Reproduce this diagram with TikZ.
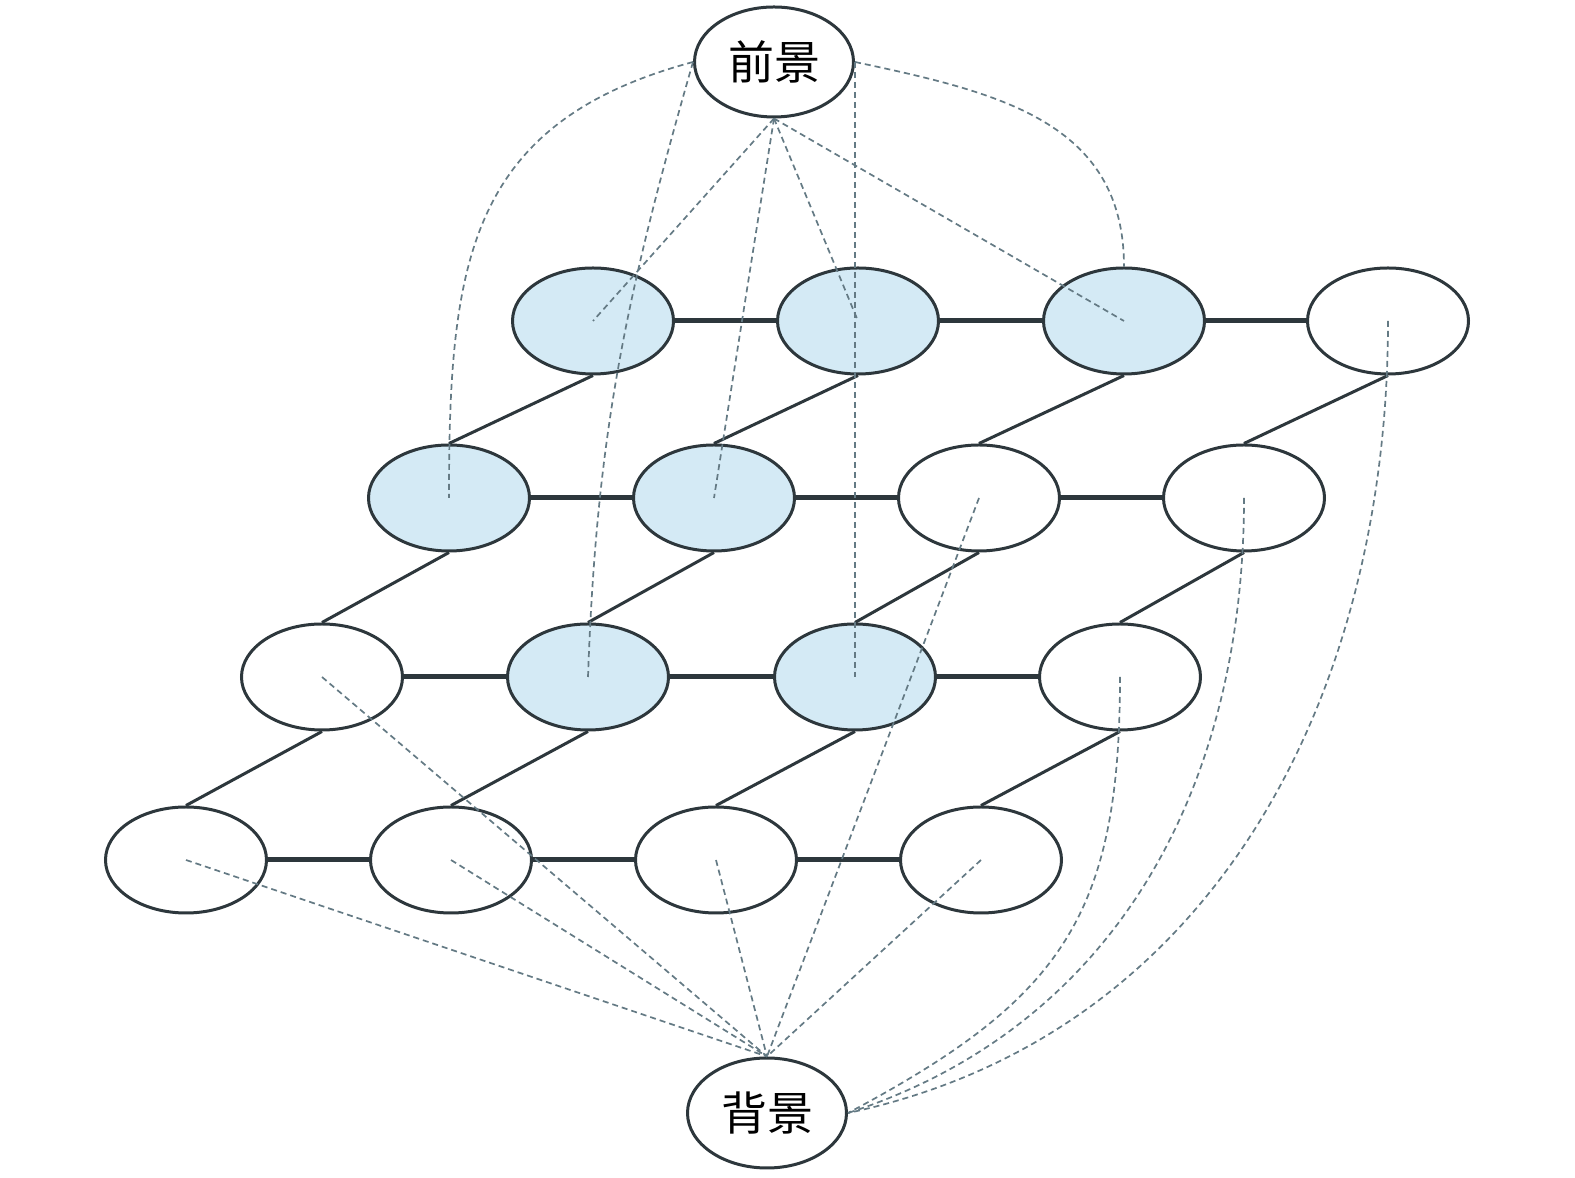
\documentclass[tikz,border=0pt]{standalone}
\usepackage{fontspec}
\newfontfamily\cjk{Noto Sans CJK SC}
\usetikzlibrary{shapes.geometric}

\definecolor{linegray}{RGB}{45,55,60}
\definecolor{cellblue}{RGB}{212,234,245}
\definecolor{dashgray}{RGB}{100,122,132}

\begin{document}
\begin{tikzpicture}[x=1pt,y=1pt,
	cell/.style={ellipse, draw=linegray, line width=3pt, minimum width=161pt, minimum height=106pt, inner sep=0pt},
	fgcell/.style={cell, fill=cellblue},
	term/.style={cell, minimum width=159pt, minimum height=110pt, font=\cjk\fontsize{46}{46}\selectfont},
	nlink/.style={draw=linegray, line width=5pt},
	dlink/.style={draw=linegray, line width=3pt},
	tlink/.style={draw=dashgray, line width=1.7pt, dash pattern=on 6pt off 4pt}]
	\useasboundingbox (0,0) rectangle (1575,1178);
	
	%terminals
	\node[term] (fg) at (774,1116) {前景};
	\node[term] (bg) at (767,65)   {背景};
	
	%grid
	\node[fgcell] (n11) at (593,857)  {};
	\node[fgcell] (n12) at (858,857)  {};
	\node[fgcell] (n13) at (1124,857) {};
	\node[cell]   (n14) at (1388,857) {};
	%
	\node[fgcell] (n21) at (449,680)  {};
	\node[fgcell] (n22) at (714,680)  {};
	\node[cell]   (n23) at (979,680)  {};
	\node[cell]   (n24) at (1244,680) {};
	%
	\node[cell]   (n31) at (322,501)  {};
	\node[fgcell] (n32) at (588,501)  {};
	\node[fgcell] (n33) at (855,501)  {};
	\node[cell]   (n34) at (1120,501) {};
	%
	\node[cell]   (n41) at (186,318)  {};
	\node[cell]   (n42) at (451,318)  {};
	\node[cell]   (n43) at (716,318)  {};
	\node[cell]   (n44) at (981,318)  {};
	
	%lines
	\draw[nlink] (n11)--(n12)--(n13)--(n14);
	\draw[nlink] (n21)--(n22)--(n23)--(n24);
	\draw[nlink] (n31)--(n32)--(n33)--(n34);
	\draw[nlink] (n41)--(n42)--(n43)--(n44);
	\draw[dlink] (n11.south)--(n21.north) (n12.south)--(n22.north) (n13.south)--(n23.north) (n14.south)--(n24.north);
	\draw[dlink] (n21.south)--(n31.north) (n22.south)--(n32.north) (n23.south)--(n33.north) (n24.south)--(n34.north);
	\draw[dlink] (n31.south)--(n41.north) (n32.south)--(n42.north) (n33.south)--(n43.north) (n34.south)--(n44.north);
	
	%foreground links
	\draw[tlink] (fg.west) to[out=195,in=90,looseness=1.2] (n21.center);
	\draw[tlink] (fg.west) to[out=-106,in=88] (n32.center);
	\draw[tlink] (fg.south) -- (n11.center);
	\draw[tlink] (fg.south) -- (n22.center);
	\draw[tlink] (fg.south) -- (n12.center);
	\draw[tlink] (fg.east) -- (n33.center);
	\draw[tlink] (fg.south) -- (n13.center);
	\draw[tlink] (fg.east) to[out=-12,in=90,looseness=1.1] (n13.north);
	
	%background links
	\draw[tlink] (n41.center) -- (bg.north);
	\draw[tlink] (n42.center) -- (bg.north);
	\draw[tlink] (n31.center) -- (bg.north);
	\draw[tlink] (n43.center) -- (bg.north);
	\draw[tlink] (n44.center) -- (bg.north);
	\draw[tlink] (n23.center) -- (bg.north);
	\draw[tlink] (n34.center) to[out=-90,in=28,looseness=1.2] (bg.east);
	\draw[tlink] (n24.center) to[out=-90,in=18] (bg.east);
	\draw[tlink] (n14.center) to[out=-90,in=12] (bg.east);
\end{tikzpicture}
\end{document}
